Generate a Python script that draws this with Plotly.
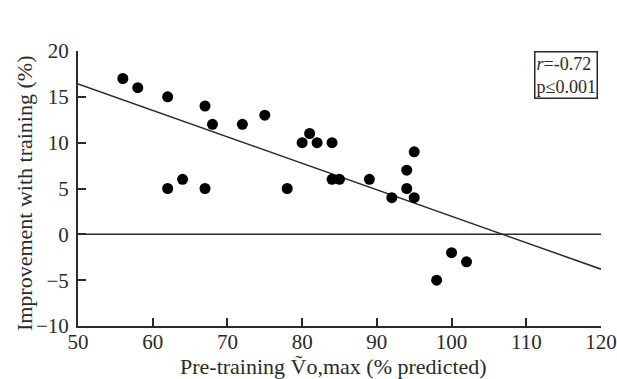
import plotly.graph_objects as go

# Data
pre_vo2 = [56, 58, 62, 62, 64, 67, 67, 68, 72, 75, 78, 80, 81, 82, 84, 84, 85,
           89, 92, 94, 94, 95, 95, 98, 100, 102]
improvement = [17, 16, 15, 5, 6, 14, 5, 12, 12, 13, 5, 10, 11, 10, 10, 6, 6,
               6, 4, 7, 5, 9, 4, -5, -2, -3]
reg_x = [50, 120]
reg_y = [16.4, -3.8]
zero_x = [50, 120]
zero_y = [0, 0]
x_ticks = [50, 60, 70, 80, 90, 100, 110, 120]
y_ticks = [-10, -5, 0, 5, 10, 15, 20]
x_title = "Pre-training Ṽo,max (% predicted)"
y_title = "Improvement with training (%)"
stats_text = "<i>r</i>=-0.72<br>p≤0.001"

FONT = "Liberation Serif"
INK = "#2a2a2a"

fig = go.Figure()
fig.add_trace(go.Scatter(x=zero_x, y=zero_y, mode="lines",
                         line=dict(color=INK, width=1.5), hoverinfo="skip"))
fig.add_trace(go.Scatter(x=reg_x, y=reg_y, mode="lines",
                         line=dict(color=INK, width=1.5), hoverinfo="skip"))
fig.add_trace(go.Scatter(x=pre_vo2, y=improvement, mode="markers",
                         marker=dict(color="black", size=11)))

fig.update_layout(
    width=617, height=379,
    margin=dict(l=78, r=16, t=51, b=53),
    paper_bgcolor="white", plot_bgcolor="white",
    showlegend=False,
    font=dict(family=FONT, color=INK),
    xaxis=dict(range=[50, 120], tickvals=x_ticks, ticks="inside", ticklen=8,
               tickwidth=1.5, tickcolor=INK, showline=True, linecolor=INK,
               linewidth=2, showgrid=False, zeroline=False, automargin=False,
               ticklabelstandoff=-4, ticklabeloverflow="allow",
               tickfont=dict(size=21, family=FONT, color=INK)),
    yaxis=dict(range=[-10, 20], tickvals=y_ticks, ticks="inside", ticklen=8,
               tickwidth=1.5, tickcolor=INK, showline=True, linecolor=INK,
               linewidth=2, showgrid=False, zeroline=False, automargin=False,
               ticklabelstandoff=3, ticklabeloverflow="allow",
               tickfont=dict(size=21, family=FONT, color=INK)),
    annotations=[
        dict(xref="paper", yref="paper", x=0.995, y=1.0, xanchor="right", yanchor="top",
             text=stats_text, align="left", showarrow=False,
             font=dict(size=18, family=FONT, color=INK),
             bordercolor=INK, borderwidth=1.5, borderpad=1, bgcolor="white"),
        dict(xref="paper", yref="paper", x=0.488, y=-0.149, xanchor="center",
             yanchor="middle", text=x_title, showarrow=False,
             font=dict(size=22, family=FONT, color=INK)),
        dict(xref="paper", yref="paper", x=-0.101, y=0.484, xanchor="center",
             yanchor="middle", text=y_title, textangle=-90, showarrow=False,
             font=dict(size=22, family=FONT, color=INK)),
    ],
)

# remove the default page margin so the 617x379 figure fills the window exactly
fig.write_html("out.html",
               config={"displayModeBar": False},
               post_script="document.body.style.margin='0';"
                           "document.body.style.overflow='hidden';")
